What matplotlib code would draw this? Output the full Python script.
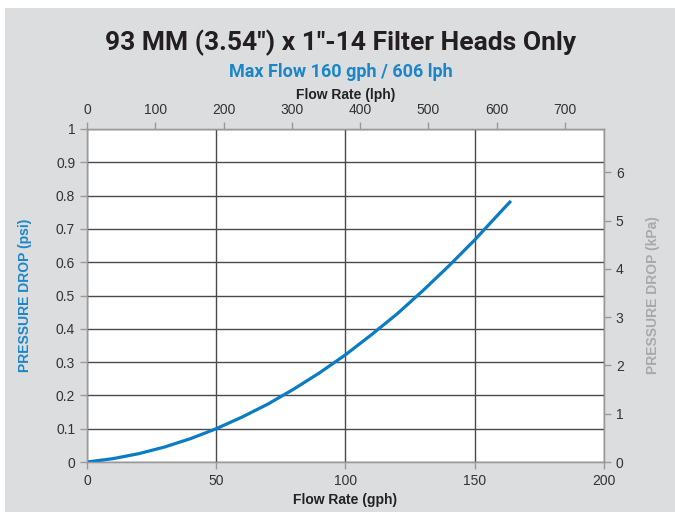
import matplotlib.pyplot as plt
from matplotlib.patches import Rectangle

# Pressure drop curve
flow_gph = [0, 10, 20, 30, 40, 50, 60, 70, 80, 90, 100, 110, 120, 130, 140, 150, 160, 164]
drop_psi = [0, 0.010, 0.025, 0.045, 0.070, 0.100, 0.135, 0.174, 0.219, 0.268, 0.322,
            0.382, 0.445, 0.515, 0.589, 0.667, 0.751, 0.784]

gph_ticks = [0, 50, 100, 150, 200]
psi_ticks = [0, 0.1, 0.2, 0.3, 0.4, 0.5, 0.6, 0.7, 0.8, 0.9, 1]
psi_labels = ['0', '0.1', '0.2', '0.3', '0.4', '0.5', '0.6', '0.7', '0.8', '0.9', '1']
lph_ticks = [0, 100, 200, 300, 400, 500, 600, 700]
kpa_ticks = [0, 1, 2, 3, 4, 5, 6]

LPH_PER_GPH = 3.785
KPA_PER_PSI = 6.895

plt.rcParams['font.family'] = ['Liberation Sans', 'DejaVu Sans']

fig = plt.figure(figsize=(6.75, 5.12), dpi=100)
fig.patch.set_facecolor('white')
fig.patches.append(Rectangle((5 / 675, 0), 1, 1 - 8 / 512, transform=fig.transFigure,
                             facecolor='#dcdddf', edgecolor='none', zorder=-10))

ax = fig.add_axes([87 / 675, 50 / 512, 517 / 675, 333 / 512])
ax.set_facecolor('white')
ax.plot(flow_gph, drop_psi, color='#0a7cc4', lw=2.3, solid_capstyle='butt', zorder=5)

ax.set_xlim(0, 200)
ax.set_ylim(0, 1)
ax.set_xticks(gph_ticks)
ax.set_yticks(psi_ticks)
ax.set_yticklabels(psi_labels)
ax.grid(True, color='#4a4a4a', lw=1.0)
ax.set_axisbelow(True)
for s in ax.spines.values():
    s.set_color('#9a9a9a')
    s.set_linewidth(1.0)
ax.tick_params(colors='#9a9a9a', labelcolor='#333333', labelsize=10, length=5, width=1)
ax.set_xlabel('Flow Rate (gph)', fontsize=10, fontweight='bold', color='#222222', labelpad=4)
ax.set_ylabel('PRESSURE DROP (psi)', fontsize=10, fontweight='bold', color='#1a86c8', labelpad=17)

ax_top = ax.twiny()
ax_top.set_xlim(0, 200 * LPH_PER_GPH)
ax_top.set_xticks(lph_ticks)
ax_top.tick_params(colors='#9a9a9a', labelcolor='#333333', labelsize=10, length=5, width=1)
ax_top.set_xlabel('Flow Rate (lph)', fontsize=10, fontweight='bold', color='#222222', labelpad=3)

ax_right = ax.twinx()
ax_right.set_ylim(0, KPA_PER_PSI)
ax_right.set_yticks(kpa_ticks)
ax_right.tick_params(colors='#9a9a9a', labelcolor='#333333', labelsize=10, length=5, width=1)
ax_right.set_ylabel('PRESSURE DROP (kPa)', fontsize=10, fontweight='bold', color='#a8a9ab', labelpad=16)
for a in (ax_top, ax_right):
    for s in a.spines.values():
        s.set_color('#9a9a9a')

fig.text(0.505, 1 - 43 / 512, '93 MM (3.54") x 1"-14 Filter Heads Only', ha='center', va='center',
         fontsize=19, fontweight='bold', color='#231f20', family=['Roboto', 'DejaVu Sans'])
fig.text(0.505, 1 - 72 / 512, 'Max Flow 160 gph / 606 lph', ha='center', va='center',
         fontsize=13, fontweight='bold', color='#1a86c8', family=['Roboto', 'DejaVu Sans'])

fig.savefig('out.png', dpi=100)
